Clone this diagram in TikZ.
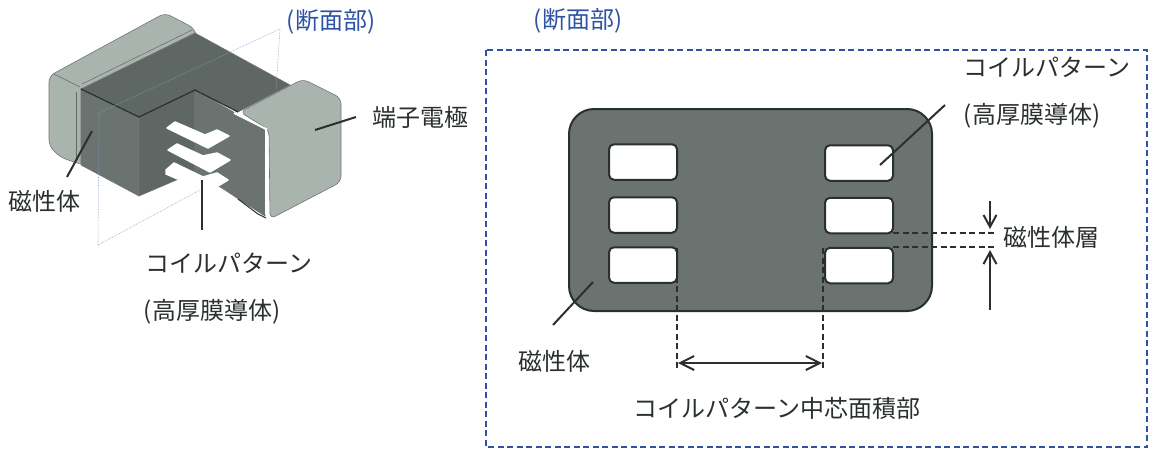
\documentclass[tikz,border=0pt]{standalone}
\usepackage{fontspec}
\setmainfont{Noto Sans CJK JP}
\usetikzlibrary{arrows.meta}
\definecolor{bodydark}{HTML}{5F6764}
\definecolor{bodymid}{HTML}{6A7370}
\definecolor{termgray}{HTML}{AAB4AF}
\definecolor{inkdark}{HTML}{2A302E}
\definecolor{secblue}{HTML}{2F52A3}
\definecolor{planeblue}{HTML}{7F9FCB}
\tikzset{
  label/.style={font=\fontsize{24}{28}\selectfont, text=inkdark, inner sep=0pt},
  seclabel/.style={font=\fontsize{24}{28}\selectfont, text=secblue, inner sep=0pt},
  coilwin/.style={draw=inkdark, line width=2pt, fill=white, rounded corners=5pt, minimum width=68pt, minimum height=35.5pt, inner sep=0pt},
  leader/.style={draw=inkdark, line width=2pt},
  dimline/.style={draw=inkdark, line width=2pt, dashed, dash pattern=on 6pt off 3.5pt},
  dimarrow/.style={draw=inkdark, line width=2pt, -{Straight Barb[length=12pt,width=13pt]}},
  face/.style={draw=black!55, line width=0.6pt, line join=round},
  plate/.style={fill=white, draw=white, line width=1.5pt, line join=round},
  plane/.style={draw=planeblue, line width=0.6pt, densely dotted},
}
\begin{document}
\begin{tikzpicture}[x=1pt,y=-1pt]
  \useasboundingbox (0,0) rectangle (1161,450);
  % Labels
  \node[seclabel] (secl) at (331,22) {(断面部)};
  \node[seclabel] (secr) at (578,21) {(断面部)};
  \node[label] (term) at (420,117) {端子電極};
  \node[label] (magl) at (45,201) {磁性体};
  \node[label] (coill) at (229,263) {コイルパターン};
  \node[label] (condl) at (212,312) {(高厚膜導体)};
  \node[label] (coilr) at (1047,67) {コイルパターン};
  \node[label] (condr) at (1032,116) {(高厚膜導体)};
  \node[label] (magr) at (554,361) {磁性体};
  \node[label] (layer) at (1051,237) {磁性体層};
  \node[label] (core) at (777,408) {コイルパターン中芯面積部};

  % Terminal behind
  \draw[face, fill=termgray, rounded corners=6pt] (49,76) -- (165,13) -- (194,28) -- (198,40) -- (82,165) -- (60,157) -- (49,146) -- cycle;
  \draw[black!60, line width=0.5pt] (54,74) -- (80,87);
  \draw[black!60, line width=0.5pt] (82,84) -- (192,30);
  \draw[black!60, line width=0.5pt] (76,92) -- (76,160);
  % Chip faces
  \draw[face, fill=bodydark] (81,89) -- (195,33) -- (290,85) -- (238,112) -- (195,90) -- (139,117) -- cycle;
  \draw[face, fill=bodymid] (81,89) -- (139,117) -- (139,196) -- (81,165) -- cycle;
  \draw[face, fill=bodydark] (139,117) -- (195,90) -- (195,172) -- (139,196) -- cycle;
  \draw[face, fill=bodymid] (195,90) -- (265,130) -- (265,216) -- (240,200) -- (225,190) -- (195,172) -- cycle;
  \draw[inkdark, line width=1.2pt, line join=round] (81,89) -- (139,117) -- (195,90) -- (238,112);
  % Terminal in front
  \draw[face, fill=termgray, rounded corners=6pt] (240,112) -- (303,79) -- (341,98) -- (341,182) -- (270,219) -- (269,130) -- cycle;
  \draw[white, line width=2pt] (234,113) -- (266,129) -- (266,214);
  \draw[inkdark, line width=1pt] (238,199) -- (258,214) -- (266,218);

  % Coil plates
  \draw[plate] (167,128) -- (175,122) -- (205,135) -- (217,130) -- (229,136) -- (208,148) -- cycle;
  \draw[plate] (168,150) -- (177,144) -- (203,156) -- (217,153) -- (230,160) -- (210,172) -- cycle;
  \draw[plate] (166,170) -- (174,163) -- (203,177) -- (217,173) -- (228,180) -- (208,192) -- (166,174) -- cycle;
  % Section plane
  \draw[plane] (98,245) -- (99,113) -- (280,29) -- (276,90);
  \draw[plane] (98,245) -- (200,190);

  % Cross section
  \draw[dashed, secblue, line width=2pt, dash pattern=on 6pt off 3.5pt] (486,50) rectangle (1147,447);
  \draw[draw=inkdark, line width=2pt, fill=bodymid, rounded corners=25pt] (569,109) rectangle (932,311);
  \node[coilwin] (wl1) at (643,162) {};
  \node[coilwin] (wl2) at (643,215) {};
  \node[coilwin] (wl3) at (643,265) {};
  \node[coilwin] (wr1) at (859,163) {};
  \node[coilwin] (wr2) at (859,215.5) {};
  \node[coilwin] (wr3) at (859,265.5) {};

  % Leaders
  \coordinate (a1) at (315,130);
  \coordinate (a2) at (356,117);
  \coordinate (b1) at (92,131);
  \coordinate (b2) at (67,177);
  \coordinate (c1) at (202,180);
  \coordinate (c2) at (202,230);
  \coordinate (d1) at (880,165);
  \coordinate (d2) at (945,105);
  \coordinate (e1) at (593,282);
  \coordinate (e2) at (553,325);
  \draw[leader] (a1) -- (a2);
  \draw[leader] (b1) -- (b2);
  \draw[leader] (c1) -- (c2);
  \draw[leader] (d1) -- (d2);
  \draw[leader] (e1) -- (e2);

  % Dimensions
  \coordinate (f1) at (893,233);
  \coordinate (f2) at (997,233);
  \coordinate (g1) at (893,247);
  \coordinate (g2) at (997,247);
  \draw[dimline] (f1) -- (f2);
  \draw[dimline] (g1) -- (g2);
  \coordinate (h1) at (990,201);
  \coordinate (h2) at (990,229);
  \coordinate (i1) at (990,310);
  \coordinate (i2) at (990,250);
  \draw[dimarrow] (h1) -- (h2);
  \draw[dimarrow] (i1) -- (i2);
  \coordinate (j1) at (677,248);
  \coordinate (j2) at (677,369);
  \coordinate (k1) at (823,248);
  \coordinate (k2) at (823,369);
  \draw[dimline] (j1) -- (j2);
  \draw[dimline] (k1) -- (k2);
  \coordinate (m1) at (678,363);
  \coordinate (m2) at (822,363);
  \draw[draw=inkdark, line width=2pt, {Straight Barb[length=14pt,width=14pt]}-{Straight Barb[length=14pt,width=14pt]}] (m1) -- (m2);
\end{tikzpicture}
\end{document}
